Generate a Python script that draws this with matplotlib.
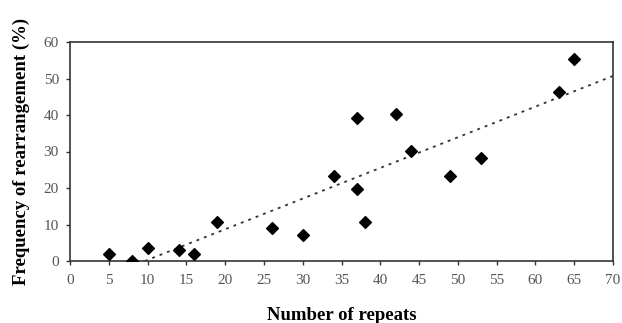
import numpy as np
import matplotlib
matplotlib.use("Agg")
import matplotlib.pyplot as plt

repeats = [5, 8, 10, 14, 16, 19, 26, 30, 34, 37, 37, 38, 42, 44, 49, 53, 63, 65]
frequency = [1.8, 0.0, 3.5, 3.0, 1.8, 10.8, 9.0, 7.1, 23.3, 39.2, 19.7, 10.7, 40.2, 30.2, 23.3, 28.3, 46.3, 55.3]
trend_slope = 0.84
trend_intercept = -8.1
x_ticks = list(range(0, 75, 5))
y_ticks = list(range(0, 70, 10))

plt.rcParams['font.family'] = ['Liberation Serif', 'DejaVu Serif']

fig = plt.figure(figsize=(6.22, 3.23), dpi=100)
ax = fig.add_axes([70/622, 1 - 261/323, (613-70)/622, (261-42)/323])

ax.scatter(repeats, frequency, marker='D', s=36, color='black', zorder=3)

x0 = -trend_intercept / trend_slope
xs = np.array([x0, 70])
ys = trend_slope * xs + trend_intercept
ax.plot(xs, ys, linestyle=(0, (1.6, 2.8)), color='#333333', linewidth=1.3)

ax.set_xlim(0, 70)
ax.set_ylim(0, 60)
ax.set_xticks(x_ticks)
ax.set_yticks(y_ticks)
ax.tick_params(axis='both', labelsize=11, labelcolor='#555555', length=3,
               direction='out', width=1, color='#333333')
ax.tick_params(axis='x', pad=6)
ax.tick_params(axis='y', pad=5)
for s in ax.spines.values():
    s.set_linewidth(1.2)
    s.set_color('#333333')

ax.set_xlabel('Number of repeats', fontsize=13.5, fontweight='bold', labelpad=15)
ax.set_ylabel('Frequency of rearrangement (%)', fontsize=13.5, fontweight='bold', labelpad=10)

fig.savefig('out.png', dpi=100)
